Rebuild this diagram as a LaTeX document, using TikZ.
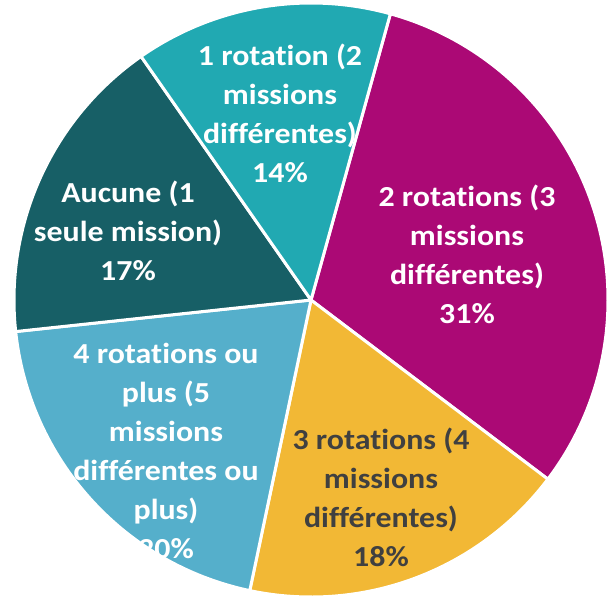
\documentclass[tikz,border=0pt]{standalone}
\usepackage{fontspec}
\setmainfont{Carlito}[Ligatures=NoCommon,FakeStretch=1.1]
\usepackage{tikz}
\definecolor{pieTeal}{HTML}{21A9B2}
\definecolor{pieMagenta}{HTML}{AB0975}
\definecolor{pieYellow}{HTML}{F2B835}
\definecolor{pieBlue}{HTML}{55AFCB}
\definecolor{pieDark}{HTML}{175F66}
\definecolor{lblGray}{HTML}{404040}

\begin{document}
\begin{tikzpicture}[x=0.5pt,y=0.5pt,
    slice/.style={draw=white,line width=1.5pt,line join=round},
    lbl/.style={align=center,text=white,font=\bfseries\fontsize{14.5}{19.5}\selectfont}]
  \useasboundingbox (0,0) rectangle (608,600);
  \coordinate (c) at (311,300);
  % slices, clockwise from the top
  \filldraw[slice,fill=pieMagenta] (c) -- ++(74.5:297) arc[start angle=74.5,end angle=-37.1,radius=297] -- cycle;
  \filldraw[slice,fill=pieYellow] (c) -- ++(-37.1:297) arc[start angle=-37.1,end angle=-101.9,radius=297] -- cycle;
  \filldraw[slice,fill=pieBlue] (c) -- ++(-101.9:297) arc[start angle=-101.9,end angle=-173.9,radius=297] -- cycle;
  \filldraw[slice,fill=pieDark] (c) -- ++(-173.9:297) arc[start angle=-173.9,end angle=-235.1,radius=297] -- cycle;
  \filldraw[slice,fill=pieTeal] (c) -- ++(124.9:297) arc[start angle=124.9,end angle=74.5,radius=297] -- cycle;
  % labels
  \node[lbl] (rot1) at (280,486.5) {1 rotation (2\\missions\\différentes)\\14\%};
  \node[lbl] (rot2) at (467,346) {2 rotations (3\\missions\\différentes)\\31\%};
  \node[lbl,text=lblGray] (rot3) at (381,103) {3 rotations (4\\missions\\différentes)\\18\%};
  \node[lbl] (rot4) at (166,149.5) {4 rotations ou\\plus (5\\missions\\différentes ou\\plus)\\20\%};
  \node[lbl] (none) at (128,369) {Aucune (1\\seule mission)\\17\%};
\end{tikzpicture}
\end{document}
